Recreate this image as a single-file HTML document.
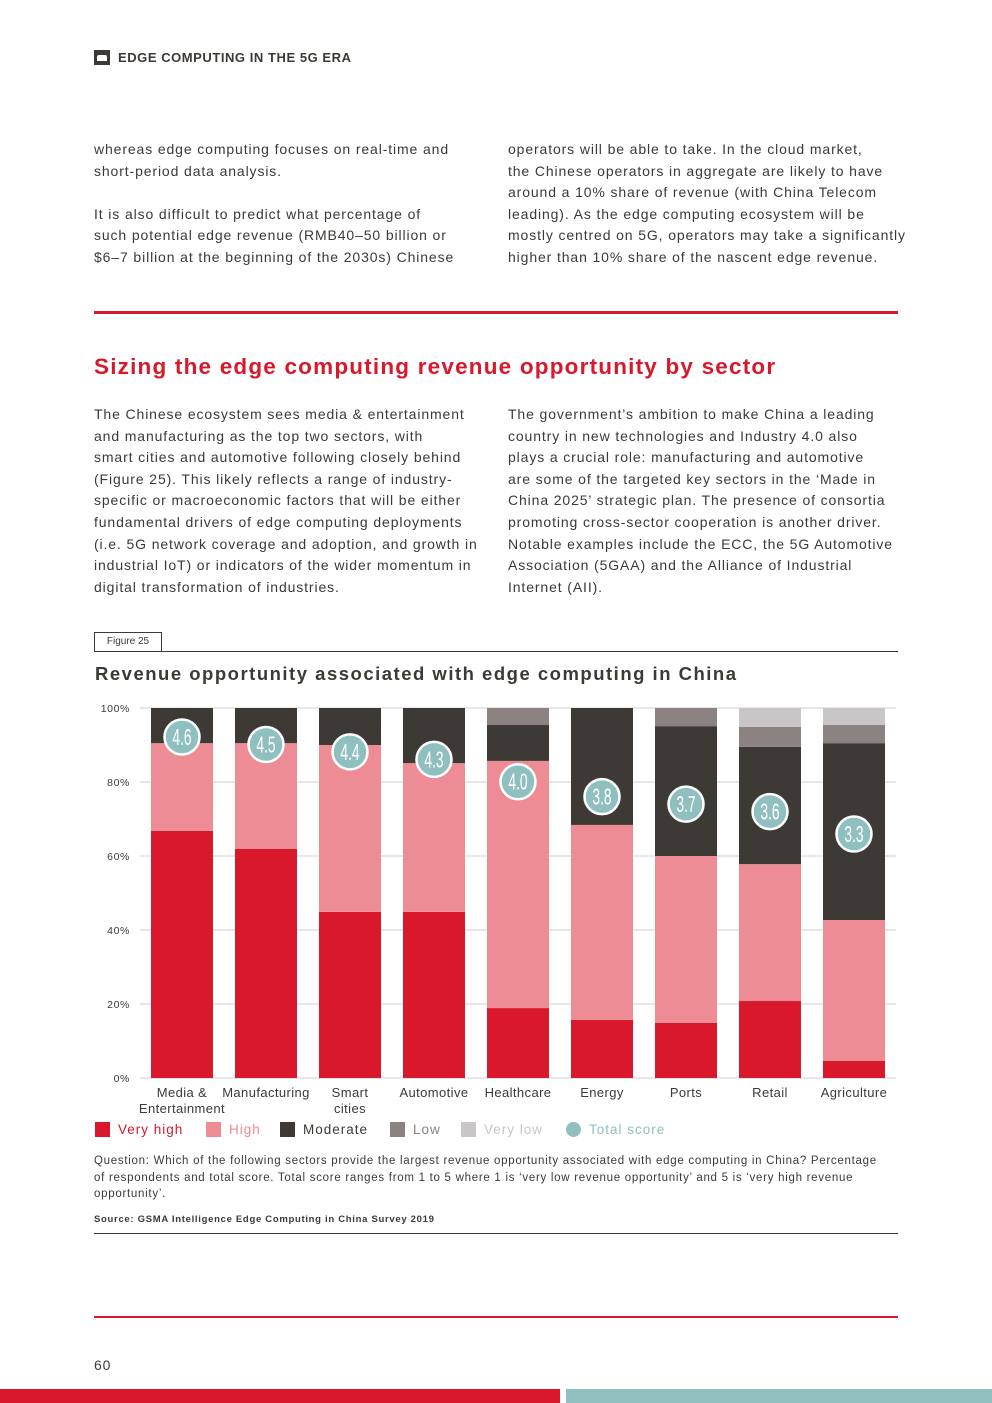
<!DOCTYPE html>
<html><head><meta charset="utf-8">
<style>
body{margin:0;width:992px;height:1403px;position:relative;background:#fff;font-family:"Liberation Sans",sans-serif;color:#3d3935;overflow:hidden}
.abs{position:absolute}
.p{font-size:14px;line-height:21.6px;letter-spacing:0.88px;color:#3d3935;margin:0;white-space:nowrap}
.leg{position:absolute;top:1122px;font-size:13.5px;letter-spacing:1px;display:flex;align-items:center}
.sw{width:15px;height:15px;display:inline-block;margin-right:8px}
</style></head><body>
<div class="abs" style="left:94px;top:50px;width:16px;height:15px;background:#3d3935"><div style="position:absolute;left:3px;top:5px;width:10px;height:6px;background:#fff;border-radius:2px 2px 0 0"></div></div>
<div class="abs" style="left:118px;top:50px;font-size:13px;font-weight:bold;letter-spacing:0.55px;color:#3d3935">EDGE COMPUTING IN THE 5G ERA</div>

<div class="abs" style="left:94px;top:139px;width:390px"><p class="p">whereas edge computing focuses on real-time and<br>short-period data analysis.<br><br>It is also difficult to predict what percentage of<br>such potential edge revenue (RMB40–50 billion or<br>$6–7 billion at the beginning of the 2030s) Chinese</p></div>
<div class="abs" style="left:508px;top:139px;width:395px"><p class="p">operators will be able to take. In the cloud market,<br>the Chinese operators in aggregate are likely to have<br>around a 10% share of revenue (with China Telecom<br>leading). As the edge computing ecosystem will be<br>mostly centred on 5G, operators may take a significantly<br>higher than 10% share of the nascent edge revenue.</p></div>

<div class="abs" style="left:94px;top:311px;width:804px;height:3px;background:#d9182b"></div>
<div class="abs" style="left:94px;top:354px;font-size:22.5px;font-weight:bold;letter-spacing:1.2px;color:#d9182b;white-space:nowrap">Sizing the edge computing revenue opportunity by sector</div>

<div class="abs" style="left:94px;top:404px;width:392px"><p class="p">The Chinese ecosystem sees media &amp; entertainment<br>and manufacturing as the top two sectors, with<br>smart cities and automotive following closely behind<br>(Figure 25). This likely reflects a range of industry-<br>specific or macroeconomic factors that will be either<br>fundamental drivers of edge computing deployments<br>(i.e. 5G network coverage and adoption, and growth in<br>industrial IoT) or indicators of the wider momentum in<br>digital transformation of industries.</p></div>
<div class="abs" style="left:508px;top:404px;width:395px"><p class="p">The government’s ambition to make China a leading<br>country in new technologies and Industry 4.0 also<br>plays a crucial role: manufacturing and automotive<br>are some of the targeted key sectors in the ‘Made in<br>China 2025’ strategic plan. The presence of consortia<br>promoting cross-sector cooperation is another driver.<br>Notable examples include the ECC, the 5G Automotive<br>Association (5GAA) and the Alliance of Industrial<br>Internet (AII).</p></div>

<div class="abs" style="left:94px;top:632px;width:66px;height:18px;border:1px solid #3d3935;font-size:10px;line-height:18px;text-align:center">Figure 25</div>
<div class="abs" style="left:94px;top:651px;width:804px;height:1px;background:#3d3935"></div>
<div class="abs" style="left:95px;top:663px;font-size:18.5px;font-weight:bold;color:#3d3935;letter-spacing:1.5px;white-space:nowrap">Revenue opportunity associated with edge computing in China</div>

<svg class="abs" style="left:0;top:690px" width="992" height="430" id="chart"></svg>

<div class="leg" style="left:95px;color:#d9182b"><span class="sw" style="background:#d9182b"></span>Very high</div>
<div class="leg" style="left:206px;color:#ed8c95"><span class="sw" style="background:#ed8c95"></span>High</div>
<div class="leg" style="left:280px;color:#3d3935"><span class="sw" style="background:#3d3935"></span>Moderate</div>
<div class="leg" style="left:390px;color:#8b8281"><span class="sw" style="background:#8b8281"></span>Low</div>
<div class="leg" style="left:461px;color:#c8c6c6"><span class="sw" style="background:#c8c6c6"></span>Very low</div>
<div class="leg" style="left:566px;color:#8fc0bf"><span class="sw" style="background:#8fc0bf;border-radius:50%"></span>Total score</div>

<div class="abs" style="left:94px;top:1153px;width:810px;font-size:11.5px;line-height:16.5px;letter-spacing:0.72px;color:#3d3935;white-space:nowrap">Question: Which of the following sectors provide the largest revenue opportunity associated with edge computing in China? Percentage<br>of respondents and total score. Total score ranges from 1 to 5 where 1 is ‘very low revenue opportunity’ and 5 is ‘very high revenue<br>opportunity’.</div>
<div class="abs" style="left:94px;top:1214px;font-size:9.5px;font-weight:bold;letter-spacing:0.7px;color:#3d3935">Source: GSMA Intelligence Edge Computing in China Survey 2019</div>
<div class="abs" style="left:94px;top:1233px;width:804px;height:1px;background:#3d3935"></div>

<div class="abs" style="left:94px;top:1316px;width:804px;height:2px;background:#d9182b"></div>
<div class="abs" style="left:94px;top:1357px;font-size:14px;letter-spacing:0.8px;color:#3d3935">60</div>
<div class="abs" style="left:0;top:1389px;width:560px;height:14px;background:#d9182b"></div>
<div class="abs" style="left:566px;top:1389px;width:426px;height:14px;background:#8fc0bf"></div>

<script>
const categories=["Media & Entertainment","Manufacturing","Smart cities","Automotive","Healthcare","Energy","Ports","Retail","Agriculture"];
const labelLines=[["Media &","Entertainment"],["Manufacturing"],["Smart","cities"],["Automotive"],["Healthcare"],["Energy"],["Ports"],["Retail"],["Agriculture"]];
const veryHigh=[66.8,61.9,44.9,44.9,18.9,15.7,14.9,20.8,4.6];
const high=[23.7,28.6,45.1,40.2,66.8,52.7,45.1,37.0,38.1];
const moderate=[9.5,9.5,10.0,14.9,9.7,31.6,35.1,31.7,47.8];
const low=[0,0,0,0,4.6,0,4.9,5.4,4.9];
const veryLow=[0,0,0,0,0,0,0,5.1,4.6];
const scores=[4.6,4.5,4.4,4.3,4.0,3.8,3.7,3.6,3.3];
const yTicks=[0,20,40,60,80,100];

const svg=document.getElementById('chart');
const NS='http://www.w3.org/2000/svg';
const OY=690;
const y0=1078-OY, y100=708-OY;
function yScale(v){return y0+(y100-y0)*v/100;}
function xScale(i){return 151+i*84;}
const barW=62;
function scoreY(s){return 737-OY+(4.6-s)*74.6;}
function mk(tag,attrs){const e=document.createElementNS(NS,tag);for(const k in attrs)e.setAttribute(k,attrs[k]);svg.appendChild(e);return e;}

yTicks.forEach(t=>{
  const l=mk('line',{x1:140,x2:896,y1:yScale(t),y2:yScale(t),stroke:'#cfcfcf','stroke-width':1});
  
  
  const tx=mk('text',{x:130,y:yScale(t)+4,'text-anchor':'end','font-size':'10.5','fill':'#3d3935','font-family':'Liberation Sans','letter-spacing':'0.6'});
  tx.textContent=t+'%';
  
  
});
const series=[[veryHigh,'#d9182b','very-high'],[high,'#ed8c95','high'],[moderate,'#3d3935','moderate'],[low,'#8b8281','low'],[veryLow,'#c8c6c6','very-low']];
categories.forEach((c,i)=>{
  let cum=0;
  series.forEach(([arr,col,nm])=>{
    const v=arr[i]; if(v<=0)return;
    const r=mk('rect',{x:xScale(i),y:yScale(cum+v),width:barW,height:yScale(cum)-yScale(cum+v),fill:col});
    
    
    cum+=v;
  });
  const cx=xScale(i)+barW/2, cy=scoreY(scores[i]);
  const ci=mk('circle',{cx:cx,cy:cy,r:17.5,fill:'#8fc0bf',stroke:'#fff','stroke-width':2.5});
  
  
  const st=mk('text',{x:cx,y:cy+8,'text-anchor':'middle','font-size':'23','fill':'#fff','font-family':'Liberation Sans Narrow, Liberation Sans','transform':`translate(${cx},${cy}) scale(0.6,1) translate(${-cx},${-cy})`});
  st.textContent=scores[i].toFixed(1);
  
  
  labelLines[i].forEach((ln,j)=>{
    const t=mk('text',{x:cx,y:1097-OY+j*16,'text-anchor':'middle','font-size':'13','fill':'#3d3935','font-family':'Liberation Sans','letter-spacing':'0.4'});
    t.textContent=ln;
    
    
  });
});
</script>
</body></html>
